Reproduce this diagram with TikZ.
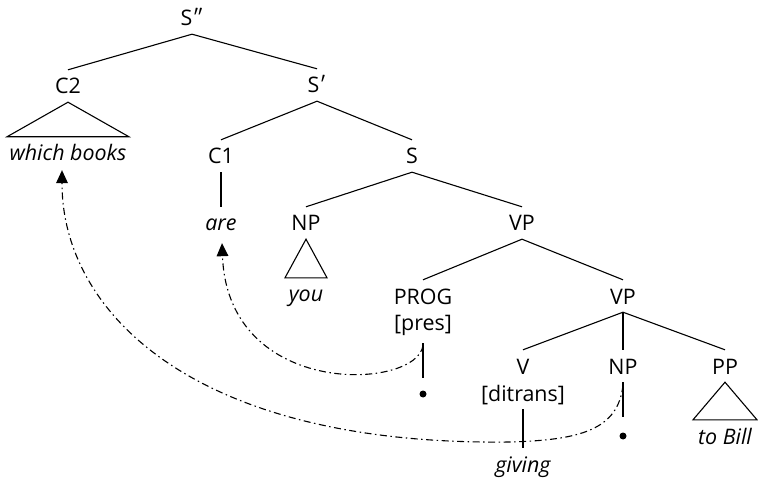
\documentclass[tikz,border=0pt]{standalone}
\usepackage{fontspec}
\setmainfont{Open Sans}
\newfontfamily\primefont{Lato}
\usetikzlibrary{arrows.meta,calc}
\begin{document}
\begin{tikzpicture}[x=1bp,y=-1bp,
  lab/.style={anchor=base,inner sep=0pt,text height=24bp,text depth=8bp,font=\fontsize{21.5}{24}\selectfont},
  leaf/.style={lab,font=\fontsize{21.5}{24}\selectfont\itshape},
  br/.style={line width=1.1bp},
  dotnode/.style={circle,fill=black,inner sep=0pt,minimum size=7bp},
  mv/.style={line width=1.1bp,dash pattern=on 7bp off 3.5bp on 1.5bp off 3.5bp,-{Triangle[length=13bp,width=12bp,line width=0pt]}}]
\useasboundingbox (0,0) rectangle (758,481);
% nodes
\node[lab] (s2) at (192,26) {S{\primefont ″}};
\node[lab] (c2) at (68,94) {C2};
\node[lab] (s1) at (317,93) {S{\primefont ′}};
\node[leaf] (wb) at (68,161) {which books};
\node[lab] (c1) at (221,164) {C1};
\node[lab] (s) at (412,164) {S};
\node[leaf] (are) at (221,231) {are};
\node[lab] (np1) at (306,231) {NP};
\node[lab] (vp1) at (522,231) {VP};
\node[leaf] (you) at (306,302) {you};
\node[lab] (prog) at (423,304) {PROG};
\node[lab] (progf) at (423,330) {[pres]};
\node[lab] (vp2) at (623,304) {VP};
\node[dotnode] (d1) at (423,394) {};
\node[lab] (v) at (523,374) {V};
\node[lab] (vf) at (523,401) {[ditrans]};
\node[lab] (np2) at (623,374) {NP};
\node[lab] (pp) at (725,374) {PP};
\node[dotnode] (d2) at (623,436) {};
\node[leaf] (tb) at (725,444) {to Bill};
\node[leaf] (giv) at (523,472) {giving};
% branches
\draw[br] (c2.north) -- (s2.south) -- (s1.north);
\draw[br] (c2.south) -- ($(wb.north)+(-61,0)$) -- ($(wb.north)+(61,0)$) -- cycle;
\draw[br] (c1.north) -- (s1.south) -- (s.north);
\draw[br] (c1.south) -- (are.north);
\draw[br] (np1.north) -- (s.south) -- (vp1.north);
\draw[br] (np1.south) -- ($(you.north)+(-21,0)$) -- ($(you.north)+(21,0)$) -- cycle;
\draw[br] (prog.north) -- (vp1.south) -- (vp2.north);
\draw[br] ($(progf.south)+(0,5)$) -- ($(d1.north)+(0,-12)$);
\draw[br] (v.north) -- (vp2.south) -- (pp.north);
\draw[br] (vp2.south) -- (np2.north);
\draw[br] (vf.south) -- (giv.north);
\draw[br] (np2.south) -- ($(d2.north)+(0,-15)$);
\draw[br] (pp.south) -- ($(tb.north)+(-32,0)$) -- ($(tb.north)+(32,0)$) -- cycle;
% movement arrows
\draw[mv] ($(progf.south)+(0,7)$) .. controls (418,390) and (228,400) .. ($(are.south)+(1,4)$);
\draw[mv] ($(np2.south)+(0,3)$) .. controls (618,430) and (580,440) .. (510,442)
  .. controls (190,446) and (62,310) .. ($(wb.south)+(-6,1)$);
\end{tikzpicture}
\end{document}
